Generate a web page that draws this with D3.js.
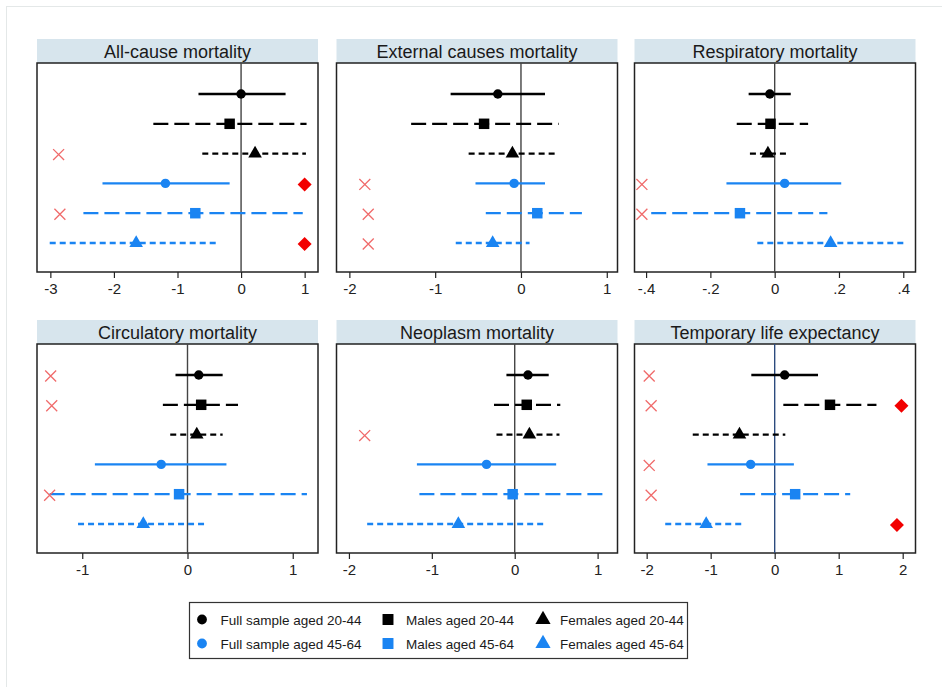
<!DOCTYPE html>
<html>
<head>
<meta charset="utf-8">
<script src="https://cdn.jsdelivr.net/npm/d3@7"></script>
<style>
  body { margin: 0; background: #fff; }
  svg { font-family: "Liberation Sans", Arial, sans-serif; }
</style>
</head>
<body>
<div id="chart"></div>
<script>
// panel titles, left to right, top to bottom
var panels = ["All-cause mortality", "External causes mortality", "Respiratory mortality",
              "Circulatory mortality", "Neoplasm mortality", "Temporary life expectancy"]

var groups = ["Full sample aged 20-44", "Males aged 20-44", "Females aged 20-44",
              "Full sample aged 45-64", "Males aged 45-64", "Females aged 45-64"]

// x ranges and ticks per panel
var xDomains = [[-3.21, 1.21], [-2.15, 1.125], [-0.436, 0.438],
                [-1.43, 1.24], [-2.15, 1.24], [-2.19, 2.2]]
var xTicks = [[-3, -2, -1, 0, 1], [-2, -1, 0, 1], [-0.4, -0.2, 0, 0.2, 0.4],
              [-1, 0, 1], [-2, -1, 0, 1], [-2, -1, 0, 1, 2]]
var tickLabels = [["-3", "-2", "-1", "0", "1"], ["-2", "-1", "0", "1"], ["-.4", "-.2", "0", ".2", ".4"],
                  ["-1", "0", "1"], ["-2", "-1", "0", "1"], ["-2", "-1", "0", "1", "2"]]

// point estimates (one row per panel, one value per group)
var estimates = [
  [0.00, -0.18, 0.22, -1.19, -0.72, -1.65],
  [-0.27, -0.43, -0.10, -0.08, 0.19, -0.33],
  [-0.015, -0.013, -0.021, 0.031, -0.108, 0.174],
  [0.107, 0.13, 0.088, -0.25, -0.08, -0.42],
  [0.16, 0.145, 0.177, -0.34, -0.025, -0.68],
  [0.156, 0.864, -0.55, -0.375, 0.32, -1.07]
]
var ciLow = [
  [-0.67, -1.38, -0.61, -2.18, -2.48, -3.01],
  [-0.82, -1.28, -0.61, -0.53, -0.41, -0.76],
  [-0.081, -0.118, -0.077, -0.15, -0.384, -0.054],
  [-0.114, -0.234, -0.164, -0.88, -1.31, -1.04],
  [-0.10, -0.25, -0.22, -1.18, -1.15, -1.78],
  [-0.365, 0.135, -1.28, -1.05, -0.54, -1.71]
]
var ciHigh = [
  [0.70, 1.03, 1.02, -0.18, 0.97, -0.34],
  [0.28, 0.44, 0.40, 0.28, 0.71, 0.10],
  [0.05, 0.104, 0.037, 0.207, 0.164, 0.403],
  [0.334, 0.48, 0.334, 0.37, 1.135, 0.177],
  [0.41, 0.55, 0.54, 0.50, 1.10, 0.39],
  [0.677, 1.59, 0.166, 0.30, 1.18, -0.48]
]

// extra markers: [panel, group, x]
var crosses = [
  [0, 2, -2.87], [0, 4, -2.85],
  [1, 3, -1.82], [1, 4, -1.78], [1, 5, -1.78],
  [2, 3, -0.413], [2, 4, -0.413],
  [3, 0, -1.30], [3, 1, -1.29], [3, 4, -1.31],
  [4, 2, -1.81],
  [5, 0, -1.96], [5, 1, -1.93], [5, 3, -1.96], [5, 4, -1.93]
]
var diamonds = [
  [0, 3, 1.0], [0, 5, 1.0],
  [5, 1, 1.98], [5, 5, 1.91]
]

var colors = ["#000", "#000", "#000", "#1a84f2", "#1a84f2", "#1a84f2"]
var dashes = [null, "15,6", "6,4", null, "15,6", "6,4"]
var shapes = [d3.symbolCircle, d3.symbolSquare, d3.symbolTriangle,
              d3.symbolCircle, d3.symbolSquare, d3.symbolTriangle]
var shapeSize = [70, 110, 80, 70, 110, 80]

var width = 942, height = 687
var colX = [37, 336.5, 634.5]
var panelW = 281
var rowY = [39, 320]
var bandH = 24, boxH = 209

var svg = d3.select("#chart").append("svg")
    .attr("width", width)
    .attr("height", height)

svg.append("rect")
    .attr("x", 6.5).attr("y", 6.5)
    .attr("width", 950).attr("height", 700)
    .attr("fill", "none")
    .attr("stroke", "#e4e8e8")

panels.forEach(function (title, p) {
    var x0 = colX[p % 3]
    var y0 = rowY[Math.floor(p / 3)]
    var top = y0 + bandH, bottom = top + boxH

    var x = d3.scaleLinear().domain(xDomains[p]).range([x0, x0 + panelW])
    var y = d3.scalePoint().domain(d3.range(6)).range([top + 31, bottom - 29])

    var g = svg.append("g")

    g.append("rect")
        .attr("x", x0).attr("y", y0)
        .attr("width", panelW).attr("height", bandH)
        .attr("fill", "#d7e5ed")
    g.append("text")
        .attr("x", x0 + panelW / 2).attr("y", y0 + 18.5)
        .attr("text-anchor", "middle")
        .attr("font-size", "18px")
        .attr("fill", "#1a1a1a")
        .text(title)

    g.append("rect")
        .attr("x", x0).attr("y", top)
        .attr("width", panelW).attr("height", boxH)
        .attr("fill", "#fff")
        .attr("stroke", "#222")
        .attr("stroke-width", 1.5)

    // zero line
    g.append("line")
        .attr("x1", x(0)).attr("x2", x(0))
        .attr("y1", top).attr("y2", bottom)
        .attr("stroke", p == 5 ? "#2b4a7e" : "#444")
        .attr("stroke-width", 1.4)

    var axis = d3.axisBottom(x)
        .tickValues(xTicks[p])
        .tickFormat(function (d, i) { return tickLabels[p][i] })
        .tickSize(6)
        .tickPadding(5)
    var ax = g.append("g")
        .attr("transform", "translate(0," + bottom + ")")
        .call(axis)
    ax.select(".domain").remove()
    ax.selectAll(".tick line").attr("stroke", "#222").attr("stroke-width", 1.2)
    ax.selectAll(".tick text")
        .attr("font-size", "15px")
        .attr("font-family", "Liberation Sans, Arial, sans-serif")
        .attr("fill", "#222")

    // confidence intervals
    g.selectAll(".ci")
        .data(d3.range(6))
        .enter().append("line")
        .attr("class", "ci")
        .attr("x1", function (i) { return x(ciLow[p][i]) })
        .attr("x2", function (i) { return x(ciHigh[p][i]) })
        .attr("y1", function (i) { return y(i) })
        .attr("y2", function (i) { return y(i) })
        .attr("stroke", function (i) { return colors[i] })
        .attr("stroke-width", 2.3)
        .attr("stroke-dasharray", function (i) { return dashes[i] })

    // point estimates
    g.selectAll(".est")
        .data(d3.range(6))
        .enter().append("path")
        .attr("class", "est")
        .attr("d", function (i) { return d3.symbol().type(shapes[i]).size(shapeSize[i])() })
        .attr("transform", function (i) { return "translate(" + x(estimates[p][i]) + "," + y(i) + ")" })
        .attr("fill", function (i) { return colors[i] })

    crosses.filter(function (c) { return c[0] == p }).forEach(function (c) {
        g.append("path")
            .attr("d", d3.symbol().type(d3.symbolX).size(80)())
            .attr("transform", "translate(" + x(c[2]) + "," + (y(c[1]) + 1) + ")")
            .attr("fill", "none")
            .attr("stroke", "#f06a6a")
            .attr("stroke-width", 1.3)
    })
    diamonds.filter(function (c) { return c[0] == p }).forEach(function (c) {
        g.append("path")
            .attr("d", d3.symbol().type(d3.symbolDiamond2).size(125)())
            .attr("transform", "translate(" + x(c[2]) + "," + (y(c[1]) + 1) + ")")
            .attr("fill", "#f20000")
    })
})

// legend
var legend = svg.append("g")
legend.append("rect")
    .attr("x", 189.5).attr("y", 602.5)
    .attr("width", 498).attr("height", 56)
    .attr("fill", "#fff")
    .attr("stroke", "#333")
    .attr("stroke-width", 1.2)

var legX = [202, 388, 543]
var legTextX = [220.5, 406, 560]
var legY = [619.5, 643.5]
var legSize = [75, 120, 100, 75, 120, 100]
groups.forEach(function (name, i) {
    var col = i % 3, row = Math.floor(i / 3)
    legend.append("path")
        .attr("d", d3.symbol().type(shapes[i]).size(legSize[i])())
        .attr("transform", "translate(" + legX[col] + "," + legY[row] + ")")
        .attr("fill", colors[i])
    legend.append("text")
        .attr("x", legTextX[col]).attr("y", legY[row] + 5)
        .attr("font-size", "13.5px")
        .attr("fill", "#1a1a1a")
        .text(name)
})
</script>
</body>
</html>
